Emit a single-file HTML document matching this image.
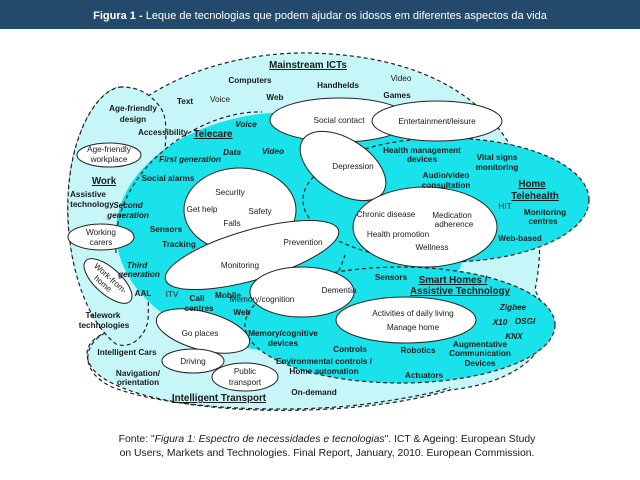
<!DOCTYPE html>
<html><head><meta charset="utf-8"><style>
body{margin:0;width:640px;height:480px;background:#fff;overflow:hidden}
svg{display:block}
text{font-family:"Liberation Sans",sans-serif;font-size:8.2px;fill:#1a1a1a;text-anchor:middle}
.b{font-weight:bold}
.i{font-style:italic}
.t{font-weight:bold;font-size:9.8px;text-decoration:underline}
</style></head><body>
<svg width="640" height="480" viewBox="0 0 640 480">
<rect x="0" y="0" width="640" height="29" fill="#244a6b"/>
<text x="320" y="19" style="font-size:11px;fill:#fff"><tspan font-weight="bold">Figura 1 -</tspan> Leque de tecnologias que podem ajudar os idosos em diferentes aspectos da vida</text>

<g stroke="#222" stroke-width="1.2" stroke-dasharray="4,3">
<path d="M142,100 C200,60 270,52 311,53 C420,56 480,95 510,145 C540,190 545,240 535,290 L540,300 C560,330 540,380 450,390 C400,405 330,412 260,410 C180,408 110,392 92,368 C80,350 92,338 105,333 C80,300 66,250 68,200 C70,130 100,87 122,87 C133,87 140,94 142,100 Z" fill="#c6f6f8"/>
<path d="M122,87 C100,87 70,130 68,200 C66,260 85,320 116,344 C132,350 146,335 148,320 C150,290 142,260 155,200 C165,160 170,125 162,110 C152,94 138,87 122,87 Z" fill="#c6f6f8"/>
<path d="M105,333 C82,345 80,372 112,387 C170,410 300,415 380,402 C420,396 442,391 450,387" fill="none"/>
</g>
<ellipse cx="292" cy="232" rx="176" ry="120" fill="#19e2ea"/>
<path d="M116,253 C110,170 200,110 262,112" fill="none" stroke="#222" stroke-width="1.2" stroke-dasharray="4,3"/>
<path d="M247,335 C300,335 330,300 345,255" fill="none" stroke="#222" stroke-width="1.2" stroke-dasharray="4,3"/>
<ellipse cx="446" cy="200" rx="143" ry="62" fill="#19e2ea" stroke="#222" stroke-width="1.2" stroke-dasharray="4,3"/>
<ellipse cx="400" cy="325" rx="155" ry="58" fill="#19e2ea" stroke="#222" stroke-width="1.2" stroke-dasharray="4,3"/>

<g fill="#fff" stroke="#222" stroke-width="1">
<ellipse cx="340" cy="120" rx="70" ry="22"/>
<ellipse cx="437" cy="121" rx="65" ry="20"/>
<ellipse cx="343" cy="166" rx="48" ry="27" transform="rotate(33 343 166)"/>
<ellipse cx="240" cy="210" rx="56" ry="42"/>
<ellipse cx="425" cy="227" rx="72" ry="40"/>
<ellipse cx="252" cy="255" rx="90" ry="25" transform="rotate(-16 252 255)"/>
<ellipse cx="302" cy="292" rx="52" ry="25"/>
<ellipse cx="406" cy="320" rx="70" ry="23"/>
<ellipse cx="203" cy="331" rx="48" ry="19" transform="rotate(15 203 331)"/>
<ellipse cx="193" cy="361" rx="31" ry="12"/>
<ellipse cx="245" cy="377" rx="33" ry="14"/>
<ellipse cx="109" cy="155" rx="32" ry="12"/>
<ellipse cx="101" cy="237" rx="33" ry="13"/>
<ellipse cx="108" cy="281" rx="30" ry="13" transform="rotate(42 108 281)"/>
</g>

<text x="308" y="68" class="t">Mainstream ICTs</text>
<text x="250" y="83" class="b">Computers</text>
<text x="185" y="104" class="b">Text</text>
<text x="220" y="102">Voice</text>
<text x="275" y="100" class="b">Web</text>
<text x="338" y="88" class="b">Handhelds</text>
<text x="401" y="81">Video</text>
<text x="397" y="98" class="b">Games</text>
<text x="133" y="111" class="b">Age-friendly</text>
<text x="133" y="122" class="b">design</text>
<text x="163" y="135" class="b">Accessibility</text>
<text x="213" y="137" class="t">Telecare</text>
<text x="246" y="127" class="b i">Voice</text>
<text x="232" y="155" class="b i">Data</text>
<text x="273" y="154" class="b i">Video</text>
<text x="190" y="162" class="b i">First generation</text>
<text x="168" y="181" class="b">Social alarms</text>
<text x="109" y="152">Age-friendly</text>
<text x="109" y="162">workplace</text>
<text x="104" y="184" class="t">Work</text>
<text x="88" y="197" class="b">Assistive</text>
<text x="92" y="207" class="b">technology</text>
<text x="128" y="208" class="b i">Second</text>
<text x="128" y="218" class="b i">generation</text>
<text x="166" y="232" class="b">Sensors</text>
<text x="179" y="247" class="b">Tracking</text>
<text x="101" y="235">Working</text>
<text x="101" y="245">carers</text>
<text x="230" y="195">Security</text>
<text x="202" y="212">Get help</text>
<text x="260" y="214">Safety</text>
<text x="232" y="226">Falls</text>
<text x="339" y="123">Social contact</text>
<text x="437" y="124">Entertainment/leisure</text>
<text x="353" y="169">Depression</text>
<text x="422" y="153" class="b">Health management</text>
<text x="422" y="162" class="b">devices</text>
<text x="497" y="160" class="b">Vital signs</text>
<text x="497" y="170" class="b">monitoring</text>
<text x="446" y="178" class="b">Audio/video</text>
<text x="446" y="188" class="b">consultation</text>
<text x="532" y="187" class="t">Home</text>
<text x="535" y="199" class="t">Telehealth</text>
<text x="505" y="209">HIT</text>
<text x="545" y="215" class="b">Monitoring</text>
<text x="543" y="224" class="b">centres</text>
<text x="520" y="241" class="b">Web-based</text>
<text x="386" y="217">Chronic disease</text>
<text x="452" y="218">Medication</text>
<text x="454" y="227">adherence</text>
<text x="398" y="237">Health promotion</text>
<text x="432" y="250">Wellness</text>
<text x="303" y="245">Prevention</text>
<text x="240" y="268">Monitoring</text>
<text x="137" y="268" class="b i">Third</text>
<text x="139" y="277" class="b i">generation</text>
<text x="143" y="296" class="b">AAL</text>
<text x="172" y="297">ITV</text>
<text x="197" y="301" class="b">Call</text>
<text x="199" y="311" class="b">centres</text>
<text x="228" y="298" class="b">Mobile</text>
<text x="242" y="315" class="b">Web</text>
<text x="262" y="302">Memory/cognition</text>
<text x="339" y="293">Dementia</text>
<text x="108" y="280" transform="rotate(42 108 281)">Work-from-</text>
<text x="106" y="289" transform="rotate(42 108 281)">home</text>
<text x="103" y="318" class="b">Telework</text>
<text x="104" y="328" class="b">technologies</text>
<text x="200" y="336">Go places</text>
<text x="127" y="355" class="b">Intelligent Cars</text>
<text x="193" y="364">Driving</text>
<text x="138" y="376" class="b">Navigation/</text>
<text x="138" y="385" class="b">orientation</text>
<text x="245" y="374">Public</text>
<text x="245" y="385">transport</text>
<text x="219" y="401" class="t">Intelligent Transport</text>
<text x="314" y="395" class="b">On-demand</text>
<text x="391" y="280" class="b">Sensors</text>
<text x="453" y="283" class="t">Smart Homes /</text>
<text x="460" y="294" class="t">Assistive Technology</text>
<text x="513" y="310" class="b i">Zigbee</text>
<text x="500" y="325" class="b i">X10</text>
<text x="525" y="324" class="b i">OSGI</text>
<text x="514" y="339" class="b i">KNX</text>
<text x="413" y="316">Activities of daily living</text>
<text x="413" y="330">Manage home</text>
<text x="283" y="336" class="b">Memory/cognitive</text>
<text x="283" y="346" class="b">devices</text>
<text x="350" y="352" class="b">Controls</text>
<text x="418" y="353" class="b">Robotics</text>
<text x="480" y="347" class="b">Augmentative</text>
<text x="480" y="356" class="b">Communication</text>
<text x="480" y="366" class="b">Devices</text>
<text x="324" y="364" class="b">Environmental controls /</text>
<text x="324" y="374" class="b">Home automation</text>
<text x="424" y="378" class="b">Actuators</text>

<text x="327" y="442" style="font-size:10.4px">Fonte: "<tspan font-style="italic">Figura 1: Espectro de necessidades e tecnologias</tspan>". ICT &amp; Ageing: European Study</text>
<text x="327" y="456" style="font-size:10.4px">on Users, Markets and Technologies. Final Report, January, 2010. European Commission.</text>
</svg>
</body></html>
